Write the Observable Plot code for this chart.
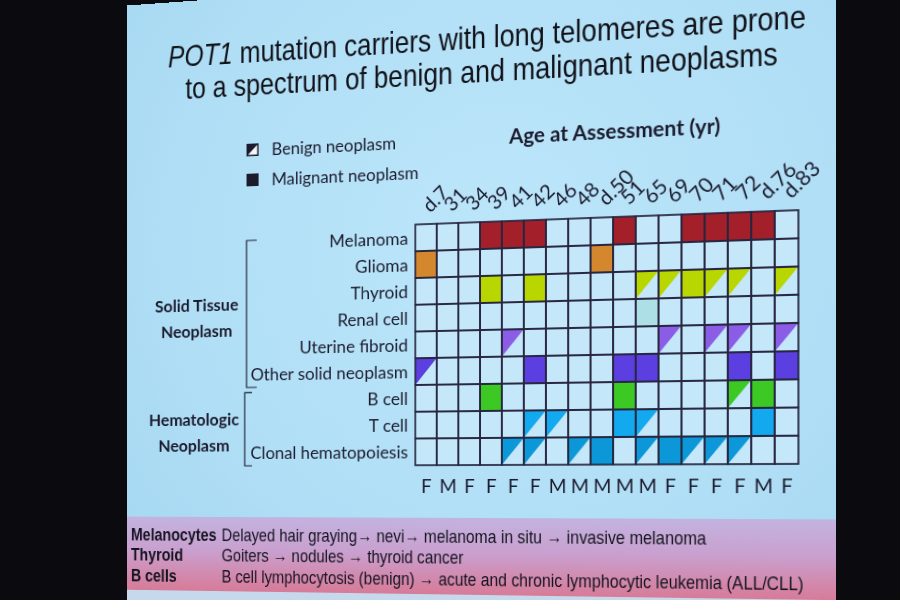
<!DOCTYPE html>
<html>
<head>
<meta charset="utf-8">
<script src="https://cdn.jsdelivr.net/npm/d3@7"></script>
<script src="https://cdn.jsdelivr.net/npm/@observablehq/plot@0.6"></script>
<style>
  html, body { margin:0; padding:0; width:900px; height:600px; overflow:hidden; background:#0b0b0f; }
  #slide { position:absolute; left:105px; top:-20px; width:718px; height:640px; overflow:hidden;
    background: radial-gradient(ellipse at 55% 40%, #bce6fa 0%, #b1dff6 55%, #a4d7f1 100%);
    transform-origin: 378px 510px; transform: perspective(1000px) rotateY(-8deg);
    font-family: Lato, "Open Sans", sans-serif; color:#1c1b2e; }
  .tl { position:absolute; width:706px; text-align:center; white-space:nowrap;
    font-family:"Liberation Sans",Arial,sans-serif; font-size:32px; line-height:36px; color:#111118; }
  .tl span { display:inline-block; transform:scaleX(0.847); }
  .leg { position:absolute; left:131px; height:22px; display:flex; align-items:center; font-size:17.5px; }
  .leg svg { margin-right:14px; }
  #axisTitle { position:absolute; left:357px; width:300px; top:145px; text-align:center; font-weight:bold; font-size:20.5px; }
  #chart { position:absolute; left:0; top:100px; }
  #band { position:absolute; left:0; top:538px; width:718px; height:77px;
    background:linear-gradient(180deg,#c3b3df 0%, #c9a0cf 45%, #d77b98 100%); }
  #bandText { position:absolute; left:0; top:0; width:870px; height:77px; transform-origin:0 0; transform:scaleX(0.83);
    font-family:"Liberation Sans",Arial,sans-serif; font-size:19px; line-height:19px; color:#14131f; }
  #strip { position:absolute; left:0; top:615px; width:718px; height:25px; background:#c6d9ec; }
  .bl, .bd { position:absolute; white-space:nowrap; }
  .bl { left:4.8px; font-weight:bold; }
  .bd { left:125.3px; }
</style>
</head>
<body>
<div id="slide">
  <div class="tl" style="top:39px;left:-13px"><span><i>POT1</i> mutation carriers with long telomeres are prone</span></div>
  <div class="tl" style="top:73px;left:10px"><span>to a spectrum of benign and malignant neoplasms</span></div>
  <div class="leg" style="top:147.7px"><svg width="13" height="13"><rect x="0.75" y="0.75" width="11.5" height="11.5" fill="#f4f6fa" stroke="#1c1b2e" stroke-width="1.5"/><path d="M0.75,0.75H12.25L0.75,12.25Z" fill="#1c1b2e"/></svg>Benign neoplasm</div>
  <div class="leg" style="top:178.7px"><svg width="13" height="13"><rect x="0" y="0" width="13" height="13" fill="#1c1b2e"/></svg>Malignant neoplasm</div>
  <div id="axisTitle">Age at Assessment (yr)</div>
  <div id="chart"></div>
  <div id="band">
    <div id="bandText">
      <div class="bl" style="top:9.4px">Melanocytes</div>
      <div class="bd" style="top:9.4px">Delayed hair graying→ nevi→ melanoma in situ → invasive melanoma</div>
      <div class="bl" style="top:30.4px">Thyroid</div>
      <div class="bd" style="top:30.4px">Goiters → nodules → thyroid cancer</div>
      <div class="bl" style="top:52.4px">B cells</div>
      <div class="bd" style="top:52.4px">B cell lymphocytosis (benign) → acute and chronic lymphocytic leukemia (ALL/CLL)</div>
    </div>
  </div>
  <div id="strip"></div>
</div>
<script>
// ---- data ----
const ages = ["d.7","31","34","39","41","42","46","48","d.50","51","65","69","70","71","72","d.76","d.83"];
const sexes = ["F","M","F","F","F","F","M","M","M","M","M","F","F","F","F","M","F"];
const rows = ["Melanoma","Glioma","Thyroid","Renal cell","Uterine fibroid","Other solid neoplasm","B cell","T cell","Clonal hematopoiesis"];
const rowColors = ["#a3202b","#d4872c","#b8d600","#ade0e6","#8b5de6","#5b3fe0","#3cc923","#12a9ee","#0b97d8"];
const malignantAges = [
  ["39","41","42","51","70","71","72","d.76"],
  ["d.7","d.50"],
  ["39","42","70"],
  ["65"],
  [],
  ["42","51","65","72","d.83"],
  ["39","51","d.76"],
  ["51","d.76"],
  ["d.50","69"]
];
const benignAges = [
  [],
  [],
  ["65","69","71","72","d.83"],
  [],
  ["41","69","71","72","d.83"],
  ["d.7"],
  ["72"],
  ["42","46","65"],
  ["41","42","48","65","70","71","72"]
];
const groupLabels = ["Solid Tissue\nNeoplasm", "Hematologic\nNeoplasm"];
const groupSpans = [["Melanoma","Other solid neoplasm"], ["B cell","Clonal hematopoiesis"]];
const groupCenterRows = ["Renal cell", "T cell"];

// ---- derived tables ----
const ink = "#1c1b2e";
const cellBg = "#c4e8fa";
const lineColor = "#27253f";
const colorOf = new Map(rows.map((r, i) => [r, rowColors[i]]));
const sexOf = new Map(ages.map((a, i) => [a, sexes[i]]));
const grid = d3.cross(rows, ages, (row, age) => ({row, age}));
const mal = rows.flatMap((row, i) => malignantAges[i].map(age => ({row, age})));
const ben = rows.flatMap((row, i) => benignAges[i].map(age => ({row, age})));

function benignTriangles(index, scales) {
  const {x, y} = scales;
  const w = x(ages[1]) - x(ages[0]), h = y(rows[1]) - y(rows[0]);
  const g = d3.create("svg:g");
  g.selectAll("path").data(ben).join("path")
    .attr("d", d => { const x0 = x(d.age), y0 = y(d.row); return `M${x0},${y0}H${x0 + w}L${x0},${y0 + h}Z`; })
    .attr("fill", d => colorOf.get(d.row));
  return g.node();
}

function brackets(index, scales, values, dims) {
  const y = scales.y;
  const h = y(rows[1]) - y(rows[0]);
  const left = dims.marginLeft;
  const specs = [
    {top: y(groupSpans[0][0]) + 0.37 * h, bottom: y(groupSpans[0][1]) + h, x: left - 175, tick: 11},
    {top: y(groupSpans[1][0]) + 0.2 * h, bottom: y(groupSpans[1][1]) + h, x: left - 177, tick: 8}
  ];
  const g = d3.create("svg:g").attr("fill", "none").attr("stroke", ink).attr("stroke-width", 1.2);
  g.selectAll("path").data(specs).join("path")
    .attr("d", s => `M${s.x + s.tick},${s.top}H${s.x}V${s.bottom}H${s.x + s.tick}`);
  return g.node();
}

const chart = Plot.plot({
  width: 718, height: 440,
  marginLeft: 306, marginRight: 32, marginTop: 139, marginBottom: 53,
  x: {domain: ages, padding: 0, axis: null},
  y: {domain: rows, padding: 0, axis: null},
  color: {type: "identity"},
  style: {background: "transparent", fontFamily: "Lato, 'Open Sans', sans-serif", color: ink, overflow: "visible"},
  marks: [
    Plot.cell(grid, {x: "age", y: "row", fill: cellBg}),
    Plot.cell(mal, {x: "age", y: "row", fill: d => colorOf.get(d.row)}),
    benignTriangles,
    Plot.cell(grid, {x: "age", y: "row", fill: "none", stroke: lineColor, strokeWidth: 1.7}),
    Plot.text(rows, {y: d => d, frameAnchor: "left", textAnchor: "end", dx: -5, fontSize: 17.8, fill: ink}),
    Plot.text(ages, {x: d => d, frameAnchor: "top", rotate: -44, textAnchor: "start", lineAnchor: "bottom", dy: -8, dx: 4, fontSize: 20, fill: ink}),
    Plot.text(ages, {x: d => d, text: d => sexOf.get(d), frameAnchor: "bottom", lineAnchor: "top", dy: 12, fontSize: 19, fill: ink}),
    Plot.text([groupLabels[0]], {y: [groupCenterRows[0]], text: d => d, frameAnchor: "left", textAnchor: "middle", dx: -230, dy: -8, fontSize: 17.5, fontWeight: "bold", lineHeight: 1.55, fill: ink}),
    Plot.text([groupLabels[1]], {y: [groupCenterRows[1]], text: d => d, frameAnchor: "left", textAnchor: "middle", dx: -233, dy: 3, fontSize: 17.5, fontWeight: "bold", lineHeight: 1.55, fill: ink}),
    brackets
  ]
});
document.getElementById("chart").appendChild(chart);
</script>
</body>
</html>
